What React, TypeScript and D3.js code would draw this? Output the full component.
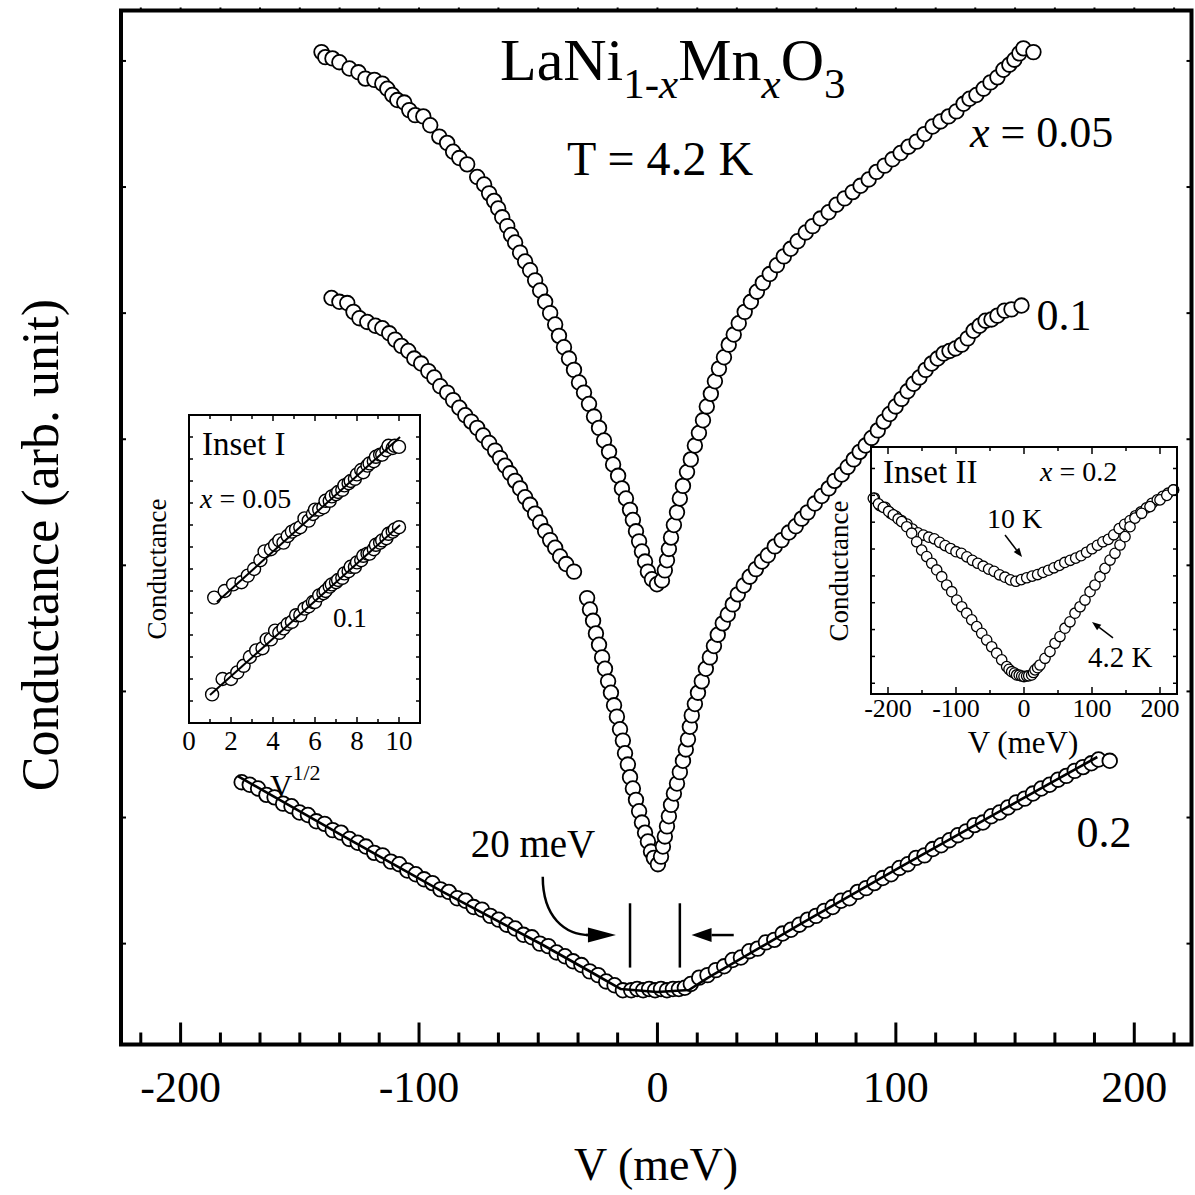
import React, { useEffect, useRef } from "react";
import * as d3 from "d3";

type Pt = [number, number];

const W = 1195;
const H = 1195;
const FONT = '"Liberation Serif", "Times New Roman", "DejaVu Serif", serif';

// ---------- main panel: V (meV) vs conductance (arb. unit), T = 4.2 K ----------
const xMainDomain = [-225, 224];
const yMainDomain = [0, 82];
const xMainMajor = [-200, -100, 0, 100, 200];
const xMainMinor = [
  -216.7, -183.3, -166.7, -150, -133.3, -116.7, -83.3, -66.7, -50, -33.3, -16.7,
  16.7, 33.3, 50, 66.7, 83.3, 116.7, 133.3, 150, 166.7, 183.3, 216.7,
];
const yMainTicks = [8, 18, 28, 38, 48, 58, 68, 78];

// x = 0.05
const g005: Pt[] = [
  [-140.9, 78.7], [-139.3, 78.3], [-136.3, 78.2], [-133.4, 77.9], [-129.2, 77.4], [-125.4, 77.1],
  [-122.5, 76.6], [-118.7, 76.5], [-115.4, 76.2], [-113.3, 75.8], [-111.2, 75.3], [-109.1, 74.9],
  [-106.2, 74.7], [-104.1, 74.1], [-101.6, 73.7], [-98.2, 73.6], [-95.3, 72.9], [-91.5, 72.0],
  [-88.2, 71.5], [-85.7, 70.8], [-83.1, 70.3], [-79.8, 69.8], [-75.6, 68.8], [-72.7, 68.2],
  [-70.6, 67.5], [-68.5, 66.9], [-66.8, 66.3], [-65.1, 65.6], [-63.0, 64.9], [-61.4, 64.2],
  [-59.7, 63.6], [-57.6, 62.8], [-55.5, 62.1], [-53.4, 61.4], [-51.3, 60.6], [-49.2, 59.8],
  [-47.1, 58.9], [-45.0, 58.0], [-42.9, 57.1], [-41.3, 56.2], [-39.2, 55.3], [-37.1, 54.4],
  [-35.0, 53.5], [-32.9, 52.5], [-30.8, 51.7], [-28.7, 50.8], [-26.6, 49.8], [-24.5, 48.9],
  [-22.4, 47.9], [-20.3, 47.0], [-18.6, 46.0], [-16.5, 45.1], [-14.9, 44.1], [-13.2, 43.3],
  [-11.5, 42.4], [-10.3, 41.6], [-9.0, 40.7], [-7.7, 39.9], [-6.5, 39.1], [-5.2, 38.3],
  [-4.0, 37.5], [-2.3, 36.9], [-0.2, 36.5], [1.9, 36.8], [3.1, 37.6], [4.0, 38.4],
  [4.8, 39.3], [5.7, 40.2], [6.9, 41.2], [8.2, 42.2], [9.4, 43.3], [10.7, 44.3],
  [12.4, 45.4], [14.0, 46.4], [15.7, 47.5], [17.4, 48.5], [19.1, 49.5], [20.7, 50.6],
  [22.4, 51.6], [24.1, 52.6], [25.8, 53.6], [27.9, 54.5], [29.9, 55.5], [32.0, 56.3],
  [34.1, 57.2], [36.6, 58.1], [39.2, 58.9], [41.7, 59.7], [44.2, 60.4], [47.1, 61.1],
  [50.1, 61.8], [53.0, 62.5], [55.9, 63.1], [58.8, 63.7], [62.2, 64.4], [65.1, 64.9],
  [68.4, 65.5], [71.8, 66.0], [75.1, 66.6], [78.5, 67.1], [81.9, 67.6], [85.2, 68.1],
  [88.6, 68.6], [91.9, 69.2], [95.3, 69.7], [98.6, 70.2], [102.0, 70.7], [105.3, 71.2],
  [108.7, 71.6], [112.0, 72.2], [115.4, 72.8], [118.7, 73.2], [122.1, 73.6], [125.4, 74.0],
  [128.4, 74.6], [130.9, 75.0], [133.8, 75.3], [136.8, 75.8], [139.7, 76.3], [142.6, 76.7],
  [145.1, 77.3], [147.6, 77.7], [149.7, 78.1], [151.8, 78.6], [153.5, 79.0], [157.7, 78.7],
];

// x = 0.1
const g01: Pt[] = [
  [-136.7, 59.2], [-133.4, 58.9], [-130.1, 58.8], [-127.5, 58.1], [-125.0, 57.6], [-121.7, 57.3],
  [-118.3, 57.0], [-115.4, 56.8], [-112.5, 56.4], [-110.0, 55.9], [-107.4, 55.4], [-104.5, 55.0],
  [-102.0, 54.4], [-99.1, 54.0], [-96.1, 53.4], [-93.6, 52.9], [-91.1, 52.2], [-88.2, 51.7],
  [-85.7, 51.1], [-83.1, 50.5], [-80.6, 49.9], [-78.1, 49.4], [-75.6, 48.9], [-73.1, 48.3],
  [-70.6, 47.7], [-68.1, 47.1], [-66.0, 46.5], [-63.9, 45.9], [-61.8, 45.3], [-59.7, 44.7],
  [-57.6, 44.1], [-55.5, 43.4], [-53.4, 42.8], [-51.3, 42.1], [-49.2, 41.4], [-47.1, 40.7],
  [-45.0, 40.0], [-42.9, 39.4], [-40.8, 38.7], [-38.3, 38.1], [-35.0, 37.5],
  [-29.5, 35.4], [-28.3, 34.5], [-27.0, 33.6], [-25.8, 32.6], [-24.5, 31.7], [-23.2, 30.7],
  [-22.0, 29.8], [-20.7, 28.8], [-19.5, 27.9], [-18.2, 26.9], [-17.0, 26.0], [-15.7, 25.0],
  [-14.5, 24.1], [-13.6, 23.1], [-12.4, 22.2], [-11.5, 21.2], [-10.3, 20.3], [-9.0, 19.4],
  [-7.7, 18.5], [-6.5, 17.6], [-5.2, 16.8], [-4.0, 16.1], [-2.7, 15.3], [-1.5, 14.8],
  [0.2, 14.3], [1.5, 14.9], [2.3, 15.7], [3.1, 16.5], [4.0, 17.3], [4.8, 18.1],
  [5.7, 19.0], [6.9, 19.9], [8.2, 20.7], [9.4, 21.6], [10.7, 22.5], [11.9, 23.4],
  [12.8, 24.2], [13.6, 25.2], [14.4, 26.1], [15.7, 27.0], [17.0, 27.9], [18.6, 28.8],
  [20.3, 29.8], [22.0, 30.7], [23.7, 31.6], [25.3, 32.5], [27.4, 33.4], [29.5, 34.1],
  [31.6, 34.9], [33.7, 35.7], [36.2, 36.4], [38.7, 37.1], [41.3, 37.7], [43.8, 38.3],
  [46.3, 38.8], [49.2, 39.5], [52.1, 40.0], [55.1, 40.6], [58.0, 41.1], [60.5, 41.7],
  [63.0, 42.2], [66.0, 42.9], [68.9, 43.5], [71.8, 44.1], [74.3, 44.7], [77.3, 45.2],
  [79.8, 45.8], [82.3, 46.4], [84.8, 47.0], [87.3, 47.5], [89.8, 48.1], [92.4, 48.7],
  [94.9, 49.4], [97.4, 50.0], [99.9, 50.6], [102.4, 51.2], [104.9, 51.8], [107.4, 52.4],
  [109.9, 52.9], [112.5, 53.5], [115.0, 54.0], [117.5, 54.4], [120.0, 54.8], [122.5, 55.0],
  [125.0, 55.2], [127.6, 55.5], [130.1, 56.0], [132.6, 56.6], [135.1, 57.0], [137.6, 57.4],
  [140.1, 57.5], [142.6, 57.8], [145.6, 58.2], [148.5, 58.3], [152.7, 58.6],
];

// x = 0.2
const g02: Pt[] = [
  [-174.4, 20.8], [-171.0, 20.6], [-167.5, 20.3], [-164.0, 19.8], [-160.6, 19.6], [-157.0, 19.1],
  [-153.5, 18.9], [-150.1, 18.4], [-146.6, 18.2], [-143.1, 17.7], [-139.6, 17.5], [-136.2, 17.0],
  [-132.7, 16.8], [-129.2, 16.3], [-125.7, 16.0], [-122.3, 15.7], [-118.8, 15.2], [-115.3, 15.0],
  [-111.8, 14.5], [-108.3, 14.3], [-104.9, 13.8], [-101.4, 13.5], [-97.9, 13.1], [-94.4, 12.8],
  [-91.0, 12.3], [-87.5, 12.1], [-84.0, 11.6], [-80.5, 11.4], [-77.1, 10.9], [-73.6, 10.7],
  [-70.1, 10.2], [-66.6, 9.9], [-63.2, 9.5], [-59.7, 9.2], [-56.2, 8.7], [-52.7, 8.5],
  [-49.3, 8.0], [-45.8, 7.8], [-42.3, 7.3], [-38.8, 7.0], [-35.4, 6.6], [-31.9, 6.3],
  [-28.4, 5.8], [-24.9, 5.5], [-21.5, 5.0], [-18.0, 4.7], [-14.5, 4.3],
  [-11.0, 4.3], [-8.5, 4.4], [-6.0, 4.3], [-3.5, 4.4], [-1.0, 4.3], [1.5, 4.4],
  [4.0, 4.3], [6.5, 4.4], [9.0, 4.4], [11.5, 4.5],
  [14.0, 4.8], [17.5, 5.3], [21.0, 5.5], [24.5, 5.9], [28.0, 6.2], [31.5, 6.7],
  [35.0, 6.9], [38.5, 7.4], [42.0, 7.6], [45.5, 8.1], [49.0, 8.3], [52.5, 8.8],
  [56.0, 9.1], [59.5, 9.5], [63.0, 9.9], [66.5, 10.2], [70.0, 10.6], [73.5, 10.9],
  [77.0, 11.4], [80.5, 11.6], [84.0, 12.1], [87.5, 12.4], [91.0, 12.8], [94.5, 13.2],
  [98.0, 13.5], [101.5, 14.0], [105.0, 14.3], [108.5, 14.8], [112.0, 15.0], [115.5, 15.5],
  [119.0, 15.8], [122.5, 16.2], [126.0, 16.6], [129.5, 16.9], [133.0, 17.4], [136.5, 17.6],
  [140.0, 18.1], [143.5, 18.4], [147.0, 18.8], [150.5, 19.2], [154.0, 19.5], [157.5, 19.9],
  [161.0, 20.3], [164.5, 20.6], [168.0, 21.0], [171.5, 21.3], [175.0, 21.7], [178.5, 22.0],
  [182.0, 22.3], [185.0, 22.6], [189.7, 22.5],
];

// fit drawn through x = 0.2
const fit02: Pt[] = [
  [-176.0, 21.29], [-132.5, 16.61], [-90.6, 12.17], [-48.8, 7.97], [-27.9, 5.75], [-15.3, 4.4],
  [-0.2, 4.16], [13.2, 4.32], [21.1, 5.28], [60.1, 9.56], [102.0, 14.08], [143.9, 18.52], [184.5, 22.8],
];

// 20 meV gap marks
const gapMarks = [-11.5, 9.4];

// ---------- Inset I: conductance vs V^1/2 ----------
const inset1XDomain = [0, 11];
const inset1YDomain = [0, 14];
const inset1XMajor = [0, 2, 4, 6, 8, 10];
const inset1XMinor = [1, 3, 5, 7, 9];
const inset1YTicks = [1, 2, 3, 4, 5, 6, 7, 8, 9, 10, 11, 12, 13];

const inset1x005: Pt[] = [
  [1.2, 5.7], [1.7, 6.0], [2.1, 6.3], [2.5, 6.4], [2.8, 6.7], [3.1, 7.0], [3.4, 7.4], [3.6, 7.8],
  [3.9, 7.9], [4.1, 8.1], [4.3, 8.3], [4.5, 8.2], [4.7, 8.5], [4.9, 8.7], [5.1, 8.8], [5.3, 8.9],
  [5.5, 9.3], [5.7, 9.2], [5.9, 9.5], [6.0, 9.7], [6.2, 9.7], [6.4, 9.8], [6.5, 10.1], [6.7, 10.1],
  [6.8, 10.3], [7.0, 10.4], [7.1, 10.5], [7.3, 10.6], [7.4, 10.8], [7.6, 10.9], [7.7, 11.0], [7.9, 11.1],
  [8.0, 11.3], [8.2, 11.5], [8.3, 11.4], [8.5, 11.7], [8.6, 11.8], [8.8, 11.9], [8.9, 12.1], [9.1, 12.2],
  [9.2, 12.2], [9.4, 12.4], [9.5, 12.6], [9.7, 12.5], [9.8, 12.6], [10.0, 12.55],
];
const inset1x01: Pt[] = [
  [1.1, 1.3], [1.6, 2.0], [2.0, 2.0], [2.3, 2.3], [2.6, 2.6], [2.9, 3.0], [3.2, 3.3], [3.5, 3.4],
  [3.7, 3.8], [3.9, 3.8], [4.1, 4.2], [4.3, 4.1], [4.5, 4.3], [4.7, 4.5], [4.9, 4.6], [5.1, 4.9],
  [5.3, 4.9], [5.5, 5.2], [5.7, 5.3], [5.9, 5.5], [6.0, 5.5], [6.2, 5.8], [6.4, 5.9], [6.5, 6.0],
  [6.7, 6.2], [6.8, 6.3], [7.0, 6.4], [7.1, 6.5], [7.3, 6.6], [7.4, 6.8], [7.6, 6.9], [7.7, 7.1],
  [7.9, 7.1], [8.0, 7.3], [8.2, 7.4], [8.3, 7.6], [8.5, 7.7], [8.6, 7.7], [8.8, 7.9], [8.9, 8.1],
  [9.1, 8.2], [9.2, 8.3], [9.4, 8.4], [9.5, 8.6], [9.7, 8.7], [9.8, 8.8], [10.0, 8.9],
];
const inset1fit005: Pt[] = [[1.33, 5.5], [10.05, 13.0]];
const inset1fit01: Pt[] = [[1.0, 1.27], [10.05, 9.0]];

// ---------- Inset II: x = 0.2 at 10 K and 4.2 K ----------
const inset2XDomain = [-225, 225];
const inset2YDomain = [-0.4, 8.8];
const inset2XMajor = [-200, -100, 0, 100, 200];
const inset2XMinor = [-150, -50, 50, 150];
const inset2YTicks = [0, 1, 2, 3, 4, 5, 6, 7, 8];

const g10K: Pt[] = [
  [-220, 6.9], [-212, 6.62], [-204, 6.55], [-196, 6.33], [-188, 6.22], [-180, 6.06], [-172, 5.93],
  [-164, 5.74], [-156, 5.6], [-148, 5.52], [-140, 5.44], [-132, 5.38], [-124, 5.25], [-116, 5.13],
  [-108, 5.02], [-100, 4.9], [-92, 4.84], [-84, 4.71], [-76, 4.58], [-68, 4.47], [-60, 4.36],
  [-52, 4.25], [-44, 4.17], [-36, 4.04], [-28, 3.95], [-20, 3.85], [-12, 3.8], [-4, 3.86],
  [4, 3.93], [12, 3.99], [20, 4.05], [28, 4.13], [36, 4.21], [44, 4.3], [52, 4.39], [60, 4.5],
  [68, 4.58], [76, 4.66], [84, 4.75], [92, 4.88], [100, 5.01], [108, 5.14], [116, 5.27],
  [124, 5.36], [132, 5.53], [140, 5.76], [148, 5.92], [156, 6.06], [164, 6.24], [172, 6.38],
  [180, 6.53], [188, 6.7], [196, 6.83], [204, 6.96], [212, 7.08], [220, 7.2],
];
const g42K: Pt[] = [
  [-221.6, 6.89], [-214, 6.68], [-206.9, 6.55], [-199, 6.4], [-192.2, 6.27], [-185, 6.12],
  [-179.9, 6.02], [-172.5, 5.83], [-165.2, 5.59], [-157.8, 5.27], [-150.5, 4.96], [-143.1, 4.72],
  [-135.7, 4.47], [-128.4, 4.22], [-121.0, 3.97], [-113.7, 3.66], [-106.3, 3.41], [-99.0, 3.1],
  [-91.6, 2.85], [-84.3, 2.61], [-76.9, 2.36], [-69.6, 2.11], [-62.2, 1.86], [-54.9, 1.61],
  [-47.5, 1.36], [-40.2, 1.12], [-32.8, 0.87], [-25.5, 0.62], [-22, 0.52], [-18.1, 0.43],
  [-14, 0.38], [-10.8, 0.31], [-7, 0.3], [-3.4, 0.27], [0, 0.25], [3.9, 0.27], [7, 0.28],
  [11.3, 0.31], [14, 0.4], [16.2, 0.5], [20, 0.58], [23.5, 0.68], [30.9, 0.93], [38.2, 1.18],
  [45.6, 1.49], [52.9, 1.74], [60.3, 2.05], [67.6, 2.29], [75.0, 2.61], [82.4, 2.85], [89.7, 3.1],
  [97.1, 3.41], [104.4, 3.66], [111.8, 3.97], [119.1, 4.28], [126.5, 4.59], [133.8, 4.84],
  [141.2, 5.15], [148.5, 5.46], [155.9, 5.83], [163.2, 6.15], [173.0, 6.33], [185.3, 6.58],
  [200.0, 6.83], [210, 7.0], [219.6, 7.2],
];

type Scale = d3.ScaleLinear<number, number>;
type Sel = d3.Selection<any, unknown, null, undefined>;

function dots(g: Sel, data: Pt[], sx: Scale, sy: Scale, r: number, sw: number) {
  g.append("g")
    .selectAll("circle")
    .data(data)
    .join("circle")
    .attr("cx", (d) => sx(d[0]))
    .attr("cy", (d) => sy(d[1]))
    .attr("r", r)
    .attr("fill", "#fff")
    .attr("stroke", "#000")
    .attr("stroke-width", sw);
}

function fitLine(g: Sel, data: Pt[], sx: Scale, sy: Scale, sw: number) {
  const line = d3
    .line<Pt>()
    .x((d) => sx(d[0]))
    .y((d) => sy(d[1]));
  g.append("path")
    .attr("d", line(data))
    .attr("fill", "none")
    .attr("stroke", "#000")
    .attr("stroke-width", sw)
    .attr("stroke-linejoin", "round");
}

function ticksX(g: Sel, vals: number[], sx: Scale, y0: number, len: number, sw: number) {
  g.append("g")
    .selectAll("line")
    .data(vals)
    .join("line")
    .attr("x1", (d) => sx(d))
    .attr("x2", (d) => sx(d))
    .attr("y1", y0)
    .attr("y2", y0 + len)
    .attr("stroke", "#000")
    .attr("stroke-width", sw);
}

function ticksY(g: Sel, vals: number[], sy: Scale, x0: number, len: number, sw: number) {
  g.append("g")
    .selectAll("line")
    .data(vals)
    .join("line")
    .attr("x1", x0)
    .attr("x2", x0 + len)
    .attr("y1", (d) => sy(d))
    .attr("y2", (d) => sy(d))
    .attr("stroke", "#000")
    .attr("stroke-width", sw);
}

function arrowHead(g: Sel, x1: number, y1: number, x2: number, y2: number, len: number, half: number, sw: number) {
  const a = Math.atan2(y2 - y1, x2 - x1);
  const bx = x2 - len * Math.cos(a);
  const by = y2 - len * Math.sin(a);
  g.append("line")
    .attr("x1", x1)
    .attr("y1", y1)
    .attr("x2", bx)
    .attr("y2", by)
    .attr("stroke", "#000")
    .attr("stroke-width", sw);
  const px = -Math.sin(a) * half;
  const py = Math.cos(a) * half;
  g.append("path")
    .attr("d", `M${x2},${y2}L${bx + px},${by + py}L${bx - px},${by - py}Z`)
    .attr("fill", "#000");
}

function xEq(g: Sel, x: number, y: number, size: number, rest: string) {
  const t = g.append("text").attr("x", x).attr("y", y).attr("font-size", size);
  t.append("tspan").attr("font-style", "italic").text("x");
  t.append("tspan").text(rest);
}

function insetFrame(
  g: Sel,
  sx: Scale,
  sy: Scale,
  xMajor: number[],
  xMinor: number[],
  yTicks: number[],
  majLen: number,
  minLen: number,
  yLen: number,
) {
  const [x0, x1] = sx.range();
  const [y0, y1] = sy.range();
  g.append("rect")
    .attr("x", x0)
    .attr("y", y1)
    .attr("width", x1 - x0)
    .attr("height", y0 - y1)
    .attr("fill", "#fff")
    .attr("stroke", "none");
  return () => {
    ticksX(g, xMajor, sx, y0, -majLen, 1.5);
    ticksX(g, xMinor, sx, y0, -minLen, 1.5);
    ticksX(g, xMajor, sx, y1, majLen, 1.5);
    ticksX(g, xMinor, sx, y1, minLen, 1.5);
    ticksY(g, yTicks, sy, x0, yLen, 1.5);
    ticksY(g, yTicks, sy, x1, -yLen, 1.5);
    g.append("rect")
      .attr("x", x0)
      .attr("y", y1)
      .attr("width", x1 - x0)
      .attr("height", y0 - y1)
      .attr("fill", "none")
      .attr("stroke", "#000")
      .attr("stroke-width", 2);
  };
}

export default function App() {
  const ref = useRef<SVGSVGElement | null>(null);

  useEffect(() => {
    const svg = d3.select(ref.current);
    svg.selectAll("*").remove();

    // main scales
    const sx = d3.scaleLinear().domain(xMainDomain).range([121, 1191.5]);
    const sy = d3.scaleLinear().domain(yMainDomain).range([1044.5, 10.5]);
    const main = svg.append("g");

    // axes ticks
    ticksX(main, xMainMajor, sx, 1044.5, -22, 3);
    ticksX(main, xMainMinor, sx, 1044.5, -12, 3);
    ticksX(main, [...xMainMajor, ...xMainMinor], sx, 10.5, -3, 2);
    ticksY(main, yMainTicks, sy, 121, 5, 2);
    ticksY(main, yMainTicks, sy, 1191.5, -5, 2);

    main
      .append("g")
      .selectAll("text")
      .data(xMainMajor)
      .join("text")
      .attr("x", (d) => sx(d))
      .attr("y", 1102)
      .attr("text-anchor", "middle")
      .attr("font-size", 44)
      .text((d) => (d < 0 ? "-" + Math.abs(d) : String(d)));

    // data
    dots(main, g005, sx, sy, 7.3, 1.8);
    dots(main, g01, sx, sy, 7.3, 1.8);
    dots(main, g02, sx, sy, 7.3, 1.8);
    fitLine(main, fit02, sx, sy, 2.6);

    // 20 meV gap marker
    main
      .append("g")
      .selectAll("line")
      .data(gapMarks)
      .join("line")
      .attr("x1", (d) => sx(d))
      .attr("x2", (d) => sx(d))
      .attr("y1", sy(11.2))
      .attr("y2", sy(6.1))
      .attr("stroke", "#000")
      .attr("stroke-width", 2.5);
    const tipY = sy(8.68);
    const lTip = sx(-17.4);
    const sX = sx(-48.1);
    const sY = sy(13.3);
    main
      .append("path")
      .attr("d", `M${sX},${sY} C${sX},${tipY - 18} ${sX + 22},${tipY} ${lTip - 26},${tipY}`)
      .attr("fill", "none")
      .attr("stroke", "#000")
      .attr("stroke-width", 2.5);
    arrowHead(main, lTip - 30, tipY, lTip, tipY, 28, 7.5, 2.5);
    arrowHead(main, sx(32.0), tipY, sx(14.3), tipY, 20, 7, 2.5);

    main
      .append("rect")
      .attr("x", 121)
      .attr("y", 10.5)
      .attr("width", 1070.5)
      .attr("height", 1034)
      .attr("fill", "none")
      .attr("stroke", "#000")
      .attr("stroke-width", 4);

    // annotations
    const title = main.append("text").attr("x", 500).attr("y", 80).attr("font-size", 60);
    title.append("tspan").text("LaNi");
    title.append("tspan").attr("font-size", 43).attr("dy", 18).text("1-");
    title.append("tspan").attr("font-size", 43).attr("font-style", "italic").text("x");
    title.append("tspan").attr("dy", -18).text("Mn");
    title.append("tspan").attr("font-size", 43).attr("font-style", "italic").attr("dy", 18).text("x");
    title.append("tspan").attr("dy", -18).text("O");
    title.append("tspan").attr("font-size", 43).attr("dy", 18).text("3");

    main.append("text").attr("x", 567).attr("y", 175).attr("font-size", 48).text("T = 4.2 K");
    xEq(main, 970, 147, 44, " = 0.05");
    main.append("text").attr("x", 1064).attr("y", 330).attr("font-size", 44).attr("text-anchor", "middle").text("0.1");
    main.append("text").attr("x", 1104).attr("y", 847).attr("font-size", 44).attr("text-anchor", "middle").text("0.2");
    main.append("text").attr("x", 533).attr("y", 857).attr("font-size", 39).attr("text-anchor", "middle").text("20 meV");

    // axis titles
    main.append("text").attr("x", 656).attr("y", 1180).attr("font-size", 46).attr("text-anchor", "middle").text("V (meV)");
    main
      .append("text")
      .attr("transform", "translate(58,545) rotate(-90)")
      .attr("font-size", 52)
      .attr("text-anchor", "middle")
      .text("Conductance (arb. unit)");

    // ----- Inset I -----
    const ix = d3.scaleLinear().domain(inset1XDomain).range([189, 420]);
    const iy = d3.scaleLinear().domain(inset1YDomain).range([723, 415]);
    const in1 = svg.append("g");
    const close1 = insetFrame(in1, ix, iy, inset1XMajor, inset1XMinor, inset1YTicks, 6, 4, 4);
    dots(in1, inset1x005, ix, iy, 6.5, 1.4);
    dots(in1, inset1x01, ix, iy, 6.5, 1.4);
    fitLine(in1, inset1fit005, ix, iy, 2);
    fitLine(in1, inset1fit01, ix, iy, 2);
    close1();
    in1
      .append("g")
      .selectAll("text")
      .data(inset1XMajor)
      .join("text")
      .attr("x", (d) => ix(d))
      .attr("y", 750)
      .attr("text-anchor", "middle")
      .attr("font-size", 27)
      .text((d) => String(d));
    in1.append("text").attr("x", 202).attr("y", 455).attr("font-size", 33).text("Inset I");
    xEq(in1, 200, 508, 28, " = 0.05");
    in1.append("text").attr("x", 333).attr("y", 627).attr("font-size", 27).text("0.1");
    const vl = in1.append("text").attr("x", 270).attr("y", 797).attr("font-size", 31);
    vl.append("tspan").text("V");
    vl.append("tspan").attr("font-size", 22).attr("dy", -17).text("1/2");
    in1
      .append("text")
      .attr("transform", "translate(166,569) rotate(-90)")
      .attr("font-size", 27)
      .attr("text-anchor", "middle")
      .text("Conductance");

    // ----- Inset II -----
    const jx = d3.scaleLinear().domain(inset2XDomain).range([871, 1177]);
    const jy = d3.scaleLinear().domain(inset2YDomain).range([694, 447]);
    const in2 = svg.append("g");
    const close2 = insetFrame(in2, jx, jy, inset2XMajor, inset2XMinor, inset2YTicks, 7, 4, 4);
    dots(in2, g10K, jx, jy, 5.2, 1.3);
    dots(in2, g42K, jx, jy, 5.2, 1.3);
    close2();
    in2
      .append("g")
      .selectAll("text")
      .data(inset2XMajor)
      .join("text")
      .attr("x", (d) => jx(d))
      .attr("y", 717)
      .attr("text-anchor", "middle")
      .attr("font-size", 26)
      .text((d) => (d < 0 ? "-" + Math.abs(d) : String(d)));
    in2.append("text").attr("x", 1023).attr("y", 753).attr("font-size", 31).attr("text-anchor", "middle").text("V (meV)");
    in2
      .append("text")
      .attr("transform", "translate(848,571) rotate(-90)")
      .attr("font-size", 27)
      .attr("text-anchor", "middle")
      .text("Conductance");
    in2.append("text").attr("x", 883).attr("y", 483).attr("font-size", 33).text("Inset II");
    xEq(in2, 1040, 481, 28, " = 0.2");
    in2.append("text").attr("x", 987).attr("y", 528).attr("font-size", 28).text("10 K");
    in2.append("text").attr("x", 1088).attr("y", 667).attr("font-size", 29).text("4.2 K");
    arrowHead(in2, jx(-27.9), jy(5.52), jx(-2.9), jy(4.7), 9, 3.5, 1.5);
    arrowHead(in2, jx(130.9), jy(1.69), jx(100), jy(2.28), 9, 3.5, 1.5);
  }, []);

  return (
    <svg
      ref={ref}
      width={W}
      height={H}
      viewBox={`0 0 ${W} ${H}`}
      fontFamily={FONT}
      style={{ position: "absolute", left: 0, top: 0, display: "block", background: "#fff" }}
    />
  );
}
